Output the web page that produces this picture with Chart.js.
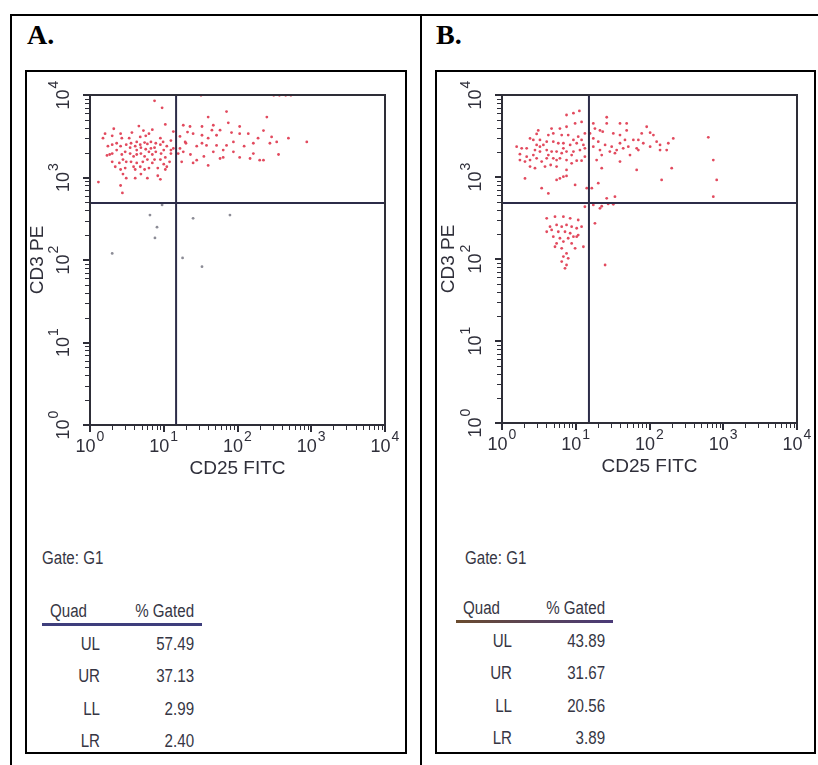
<!DOCTYPE html>
<html>
<head>
<meta charset="utf-8">
<script src="https://cdn.jsdelivr.net/npm/chart.js@4.4.1/dist/chart.umd.min.js"></script>
<style>
html,body{margin:0;padding:0;background:#fff;}
#fig{position:relative;width:818px;height:765px;overflow:hidden;background:#fff;}
.a{position:absolute;box-sizing:border-box;}
.outer{left:10px;top:14px;width:830px;height:800px;border:2px solid #000;}
.divider{left:420px;top:14px;width:2px;height:760px;background:#000;}
.inner{top:70px;height:684px;border:2px solid #000;}
.plabel{font-family:'Liberation Serif','Times New Roman',serif;font-weight:bold;font-size:28px;line-height:28px;color:#000;white-space:nowrap;}
.t{font-family:'Liberation Sans',Arial,sans-serif;font-size:18px;line-height:18px;color:#363644;white-space:nowrap;}
.tl{transform:scaleX(0.84);transform-origin:left center;}
.tr{transform:scaleX(0.84);transform-origin:right center;}
canvas{position:absolute;}
</style>
</head>
<body>
<div id="fig">
  <div class="a outer"></div>
  <div class="a divider"></div>
  <div class="a inner" style="left:25px;width:382px;"></div>
  <div class="a inner" style="left:435px;width:381px;"></div>
  <div class="a plabel" style="left:27px;top:21px;">A.</div>
  <div class="a plabel" style="left:436px;top:21px;">B.</div>

  <canvas id="chartA" width="378" height="410" style="left:27px;top:73px;"></canvas>
  <canvas id="chartB" width="377" height="410" style="left:437px;top:73px;"></canvas>

  <div id="tableA"></div>
  <div id="tableB"></div>
</div>

<script>
// ---------------- DATA ----------------
const quadrants = ['UL', 'UR', 'LL', 'LR'];
const gatedA = ['57.49', '37.13', '2.99', '2.40'];
const gatedB = ['43.89', '31.67', '20.56', '3.89'];
const xAxisTitle = 'CD25 FITC';
const yAxisTitle = 'CD3 PE';
const gateLabel = 'Gate: G1';
const tableHeader = ['Quad', '% Gated'];
const axisMin = 1, axisMax = 10000;
// decade tick labels: base "10" with exponent
const decadeTicks = [1, 10, 100, 1000, 10000];
const decadeExponents = ['0', '1', '2', '3', '4'];
// all tick marks of the log axes (majors at decades)
const tickValues = [1,2,3,4,5,6,7,8,9,
  10,20,30,40,50,60,70,80,90,
  100,200,300,400,500,600,700,800,900,
  1000,2000,3000,4000,5000,6000,7000,8000,9000,10000];

// quadrant markers (CD25, CD3)
const quadA = [14.7, 490];
const quadB = [15.1, 482];

// Panel A events
const cd25_A_UL = [7.5,9.5,2.1,1.6,3.7,4.6,5.3,7,10.5,1.5,
  2.3,2.6,3.1,3.6,4.1,4.3,4.8,5.5,6.0,6.7,
  7.8,9.0,9.8,11,12.5,1.85,1.7,2.0,2.7,3.0,
  3.5,3.9,4.3,4.9,5.5,6.3,7,7.8,9.2,10.5,
  12.5,13.5,2.8,3.1,3.6,4.3,5.2,6.0,7.0,9.0,
  10,2.6,3.0,4.1,4.8,5.5,6.3,8.3,10.5,11,
  2.8,3.1,4.1,6.0,1.3,2.6,2.75,9.0,2.2,2.5,
  1.75,2.0,4.8,5.7,6.7,7.5,9.0,4.3,3.4,2.7,
  2.3,3.9,4.9,2.0,5.7,10,12,3.5,4.9,7.5,
  12.5,2.6,6.3,13.5,2.0,8.3];
const cd3_A_UL = [8500,7000,3900,3400,3500,4200,3700,3800,4400,3000,
  2600,2400,2500,2600,2400,2700,2500,2650,2550,2700,
  2600,2500,2700,2400,2150,1900,1850,1950,1900,2050,
  1950,1800,1900,1950,1800,2050,1900,2050,1950,1750,
  1950,2250,1650,1550,1550,1500,1550,1650,1500,1650,
  1450,1250,1300,1250,1350,1250,1300,1300,1250,1350,
  1100,980,980,980,880,800,650,950,1350,1500,
  2400,3200,3100,3200,2250,1650,3000,2150,3000,3000,
  2150,1350,1100,2500,2200,2150,1550,2300,2300,2300,
  2800,3400,3400,3600,1550,1050];
const cd25_A_UR = [32,310,370,450,530,
  71,250,40,75,18.4,22.7,33,47,58,83,
  107,140,225,290,340,490,870,360,225,148,
  107,64,40,28,23,16.6,19.5,25,33,40,
  52,64,88,38,20,28,15.7,18.4,47,164,
  123,200,275,58,35,25,16.6,17.5,88,190,
  52,107,164,33,71,21,45];
const cd3_A_UR = [9900,9900,9900,9900,9900,
  6300,5400,5400,4600,4300,4150,4150,4300,3750,3500,
  3400,3400,3700,3100,2700,3000,2700,1900,1620,1700,
  1750,1750,1400,1620,1900,3150,2700,3400,3250,3000,
  2450,2150,2050,2450,2600,2400,1950,2050,2050,2600,
  2400,1620,2600,1700,1800,1500,2250,1550,2700,3000,
  3250,4150,1950,2600,2450,3550,3750];
const cd25_A_LL = [9.5,8.1,7.6,2.0,6.5];
const cd3_A_LL = [465,250,185,120,350];
const cd25_A_LR = [25,79,18,33];
const cd3_A_LR = [320,350,106,83];

// Panel B events
const cd25_B_UL = [7.5,9.3,11.2,12,9.8,7.5,6.1,4.7,3.1,2.95,
  2.4,2.66,3.27,4.04,4.96,5.8,6.8,8.4,10.3,12.7,
  1.58,1.85,2.16,2.8,3.27,4.04,4.71,5.5,6.45,7.5,
  9.3,11.4,13.3,1.75,2.05,2.4,2.95,3.45,4.04,4.96,
  6.1,7.5,10.3,12,2.8,3.83,4.57,5.5,2.4,2.05,
  5.5,6.1,6.8,7.5,9.8,3.45,4.25,14.1,3.27,4.25,
  6.8,8.8,10.8,13.3,4.96,7.9,2.16,2.66,8.8,3.64,
  9.3,6.45,4.25,13.3,2.95,5.5,7.5,1.75,12];
const cd3_B_UL = [5700,6000,6400,4700,4500,4100,3900,3900,3700,3350,
  2950,2830,2830,2700,2700,2580,2580,2460,2580,2460,
  2340,2240,2240,2130,2040,2130,2040,2040,1950,2040,
  2040,2130,2240,1610,1540,1610,1690,1540,1690,1690,
  1690,1610,1580,1580,1280,1340,1400,1610,1340,960,
  920,960,1010,1030,800,730,630,730,2340,1850,
  2240,1850,3100,3400,3400,3250,1770,1850,1470,2460,
  2830,3250,3250,1770,2460,1340,1220,1900,2830];
const cd25_B_UR = [26.3,39.8,49,91.6,102,17.3,18.2,21.3,23.2,32.3,
  39.8,49,60.4,70.6,82.4,125,139,171,210,627,
  17.3,20.2,25,30.7,35.9,44,51.6,67,17.3,21.3,
  29,34,70.6,139,22.5,67,200,146,733,815,
  733,20.2,16.5,34,26.3,19.2,39.8,102,54.4,113,
  26.3,15.6,22.5,46.5,78.4,39.8,180];
const cd3_B_UR = [5350,4500,4500,4100,3470,4500,3900,3700,3570,3400,
  3250,3700,2830,2830,2580,2700,2460,2130,2950,3050,
  2950,2700,2460,2340,2130,2240,2340,2240,2340,2130,
  2040,1950,2130,2130,1280,1220,1280,920,1610,920,
  575,840,730,575,550,1610,2580,2340,1850,3250,
  4500,3400,1850,2830,3400,1540,2580];
const cd25_B_LL = [4.04,5.23,6.8,8.4,10.8,4.48,5.5,6.45,7.5,8.8,
  10.3,12,4.04,4.71,5.8,7.15,8.4,10.8,4.96,6.1,
  7.9,9.3,5.5,6.8,5.23,6.45,9.8,7.5,6.8,7.9,
  6.45,7.5,7.15,12.7,10.3,8.8,13.3];
const cd3_B_LL = [313,328,328,313,299,248,260,248,260,248,
  237,248,215,226,215,215,206,196,187,179,
  179,187,155,163,141,135,135,117,107,102,
  93,84.5,77,141,187,155,434];
const cd25_B_LR = [17.3,22.5,27.5,32.3,21.3,18.2,25];
const cd3_B_LR = [456,440,470,465,415,272,84.5];

// ---------------- RENDERING ----------------
function pts(xs, ys){ return xs.map((x, i) => ({x: x, y: ys[i]})); }

const FONT = "'Liberation Sans', Arial, sans-serif";
const TXT = '#2f2f3a';
const RED = '#e24a5e';
const GRAY = '#8c8c96';
const LINE = '#2c2c48';
const AXIS = '#2e2e38';

// plot frame (top/right sides of the box)
const boxPlugin = {
  id: 'box',
  afterDraw(chart){
    const {ctx, chartArea: a} = chart;
    ctx.save();
    ctx.strokeStyle = AXIS;
    ctx.lineWidth = 2;
    ctx.strokeRect(a.left, a.top, a.right - a.left, a.bottom - a.top);
    ctx.restore();
  }
};

// log-axis tick marks (decades long, sub-decades short), outside the box
const logTickPlugin = {
  id: 'logTicks',
  afterDraw(chart, args, o){
    const ctx = chart.ctx;
    const xs = chart.scales.x, ys = chart.scales.y;
    ctx.save();
    ctx.strokeStyle = AXIS;
    tickValues.forEach(v => {
      const major = decadeTicks.includes(v);
      const len = major ? o.major : o.minor;
      ctx.lineWidth = major ? 2 : 1;
      const off = major ? 0 : 0.5;
      const px = Math.round(xs.getPixelForValue(v)) + off;
      ctx.beginPath(); ctx.moveTo(px, xs.top); ctx.lineTo(px, xs.top + len); ctx.stroke();
      const py = Math.round(ys.getPixelForValue(v)) + off;
      ctx.beginPath(); ctx.moveTo(ys.right, py); ctx.lineTo(ys.right - len, py); ctx.stroke();
    });
    ctx.restore();
  }
};

// decade labels "10" with raised exponent, placed through the scales
const decadePlugin = {
  id: 'decades',
  afterDraw(chart, args, opts){
    const ctx = chart.ctx;
    const xs = chart.scales.x, ys = chart.scales.y;
    ctx.save();
    ctx.fillStyle = TXT;
    ctx.textBaseline = 'alphabetic';
    ctx.textAlign = 'left';
    decadeTicks.forEach((v, i) => {
      const ex = decadeExponents[i];
      ctx.font = '18px ' + FONT; const wB = ctx.measureText('10').width;
      ctx.font = '14px ' + FONT; const wE = ctx.measureText(ex).width;
      const total = wB + wE + 1;
      // x axis
      const px = xs.getPixelForValue(v);
      const base = xs.top + opts.xBase;
      ctx.font = '18px ' + FONT;
      ctx.fillText('10', px - total / 2, base);
      ctx.font = '14px ' + FONT;
      ctx.fillText(ex, px - total / 2 + wB + 1, base - opts.raise);
      // y axis (rotated, reading upward)
      const py = ys.getPixelForValue(v);
      ctx.save();
      ctx.translate(ys.right - opts.yBase, py);
      ctx.rotate(-Math.PI / 2);
      ctx.font = '18px ' + FONT;
      ctx.fillText('10', -total / 2, 0);
      ctx.font = '14px ' + FONT;
      ctx.fillText(ex, -total / 2 + wB + 1, -opts.raise);
      ctx.restore();
    });
    ctx.restore();
  }
};

function makeChart(id, o){
  const ds = [
    {label:'quad-v', data:[{x:o.q[0], y:axisMin},{x:o.q[0], y:axisMax}], showLine:true, borderColor:LINE, borderWidth:2, pointRadius:0, order:0},
    {label:'quad-h', data:[{x:axisMin, y:o.q[1]},{x:axisMax, y:o.q[1]}], showLine:true, borderColor:LINE, borderWidth:2, pointRadius:0, order:0},
    {label:'events', data:o.red, pointRadius:1.4, pointBorderWidth:0, backgroundColor:RED, borderColor:RED, order:1},
    {label:'events-grey', data:o.gray, pointRadius:1.4, pointBorderWidth:0, backgroundColor:GRAY, borderColor:GRAY, order:1}
  ];
  const setTicks = (s) => { s.ticks = tickValues.map(v => ({value: v, major: decadeTicks.includes(v)})); };
  return new Chart(document.getElementById(id), {
    type:'scatter',
    data:{datasets:ds},
    plugins:[boxPlugin, logTickPlugin, decadePlugin],
    options:{
      responsive:false, animation:false, events:[], devicePixelRatio:1,
      layout:{padding:{left:0, top:o.padT, right:o.padR, bottom:0}},
      plugins:{legend:{display:false}, tooltip:{enabled:false},
               logTicks:{major:7, minor:5},
               decades:{xBase:27, yBase:21, raise:11}},
      scales:{
        x:{
          type:'logarithmic', position:'bottom', min:axisMin, max:axisMax,
          grid:{display:false, drawTicks:false},
          border:{display:true, color:AXIS, width:2},
          ticks:{display:false, autoSkip:false},
          afterBuildTicks:setTicks,
          title:{display:true, text:xAxisTitle, color:TXT, font:{family:FONT, size:19},
                 padding:{top:0, bottom:o.xTitlePad}},
          afterFit:(s) => { s.height = o.xH; }
        },
        y:{
          type:'logarithmic', position:'left', min:axisMin, max:axisMax,
          grid:{display:false, drawTicks:false},
          border:{display:true, color:AXIS, width:2},
          ticks:{display:false, autoSkip:false},
          afterBuildTicks:setTicks,
          title:{display:true, text:yAxisTitle, color:TXT, font:{family:FONT, size:19},
                 padding:{top:o.yTitlePad, bottom:0}},
          afterFit:(s) => { s.width = o.yW; }
        }
      }
    }
  });
}

makeChart('chartA', {
  q: quadA,
  red: pts(cd25_A_UL, cd3_A_UL).concat(pts(cd25_A_UR, cd3_A_UR)),
  gray: pts(cd25_A_LL, cd3_A_LL).concat(pts(cd25_A_LR, cd3_A_LR)),
  yW: 63, xH: 58, padT: 22, padR: 20, xTitlePad: 3, yTitlePad: -1
});
makeChart('chartB', {
  q: quadB,
  red: pts(cd25_B_UL, cd3_B_UL).concat(pts(cd25_B_UR, cd3_B_UR), pts(cd25_B_LL, cd3_B_LL), pts(cd25_B_LR, cd3_B_LR)),
  gray: [],
  yW: 65, xH: 60, padT: 22, padR: 17, xTitlePad: 5, yTitlePad: 0
});

// ---------------- TABLES (text) ----------------
function addText(parent, txt, cls, style){
  const d = document.createElement('div');
  d.className = 'a t ' + cls;
  d.textContent = txt;
  Object.assign(d.style, style);
  parent.appendChild(d);
}
function buildTable(id, vals, L){
  const el = document.getElementById(id);
  addText(el, gateLabel, 'tl', {left:L.gateX + 'px', top:L.gateTop + 'px'});
  addText(el, tableHeader[0], 'tl', {left:L.quadX + 'px', top:L.headTop + 'px'});
  addText(el, tableHeader[1], 'tr', {right:(818 - L.numR) + 'px', top:L.headTop + 'px'});
  const u = document.createElement('div');
  u.className = 'a';
  Object.assign(u.style, {left:L.ulX0 + 'px', top:L.ulY + 'px', width:(L.ulX1 - L.ulX0) + 'px', height:'3px', background:L.ulColor});
  el.appendChild(u);
  quadrants.forEach((q, i) => {
    addText(el, q, 'tr', {right:(818 - L.quadR) + 'px', top:L.rows[i] + 'px'});
    addText(el, vals[i], 'tr', {right:(818 - L.numR) + 'px', top:L.rows[i] + 'px'});
  });
}
buildTable('tableA', gatedA, {gateX:42, gateTop:549, quadX:50, headTop:602, numR:194, quadR:100,
  ulX0:42, ulX1:202, ulY:623, ulColor:'#3e3e7c', rows:[635, 667, 700, 732]});
buildTable('tableB', gatedB, {gateX:465, gateTop:549, quadX:463, headTop:599, numR:605, quadR:512,
  ulX0:456, ulX1:613, ulY:620, ulColor:'linear-gradient(90deg,#6a4b2e,#5a4458,#4a3a78)', rows:[632, 664, 697, 729]});
</script>
</body>
</html>
